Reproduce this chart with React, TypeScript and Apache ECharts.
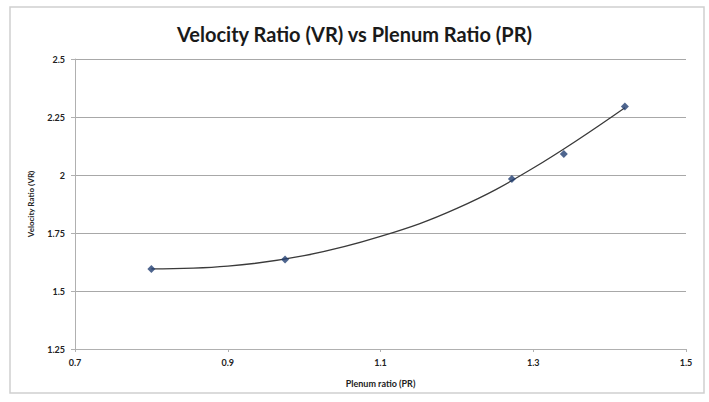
import React, { useEffect, useRef } from "react";
import * as echarts from "echarts";

const pr = [0.8, 0.975, 1.272, 1.34, 1.42];
const vr = [1.595, 1.636, 1.983, 2.09, 2.295];

// trendline
const trendX = [0.8, 0.9, 1.0, 1.1, 1.2, 1.3, 1.42];
const trendY = [1.595, 1.607, 1.652, 1.735, 1.856, 2.03, 2.29];

const xTicks = [0.7, 0.9, 1.1, 1.3, 1.5];
const yTicks = [1.25, 1.5, 1.75, 2, 2.25, 2.5];

export default function App() {
  const ref = useRef<HTMLDivElement>(null);
  useEffect(() => {
    const chart = echarts.init(ref.current!, null, { renderer: "svg" });
    const font = "Lato";
    chart.setOption({
      animation: false,
      backgroundColor: "#ffffff",
      title: {
        text: "Velocity Ratio (VR) vs Plenum Ratio (PR)",
        left: "center",
        top: 19,
        textStyle: { fontFamily: font, fontSize: 20, fontWeight: "bold", color: "#1a1a1a" },
      },
      graphic: [
        {
          type: "rect",
          shape: { x: 10, y: 7, width: 694, height: 386 },
          style: { fill: "none", stroke: "#d0d0d0", lineWidth: 1.5 },
          silent: true,
        },
      ],
      grid: { left: 75, right: 23, top: 59, bottom: 53 },
      xAxis: {
        type: "value",
        min: xTicks[0],
        max: xTicks[xTicks.length - 1],
        interval: 0.2,
        name: "Plenum ratio (PR)",
        nameLocation: "middle",
        nameGap: 30,
        nameTextStyle: { fontFamily: font, fontSize: 9, fontWeight: "bold", color: "#222" },
        axisLine: { show: true, lineStyle: { color: "#b0b0b0", width: 1 } },
        axisTick: { show: true, length: 3, lineStyle: { color: "#b0b0b0" } },
        axisLabel: {
          fontFamily: font,
          fontSize: 9,
          fontWeight: "bold",
          color: "#222",
          margin: 9,
          formatter: (v: number) => String(Math.round(v * 10) / 10),
        },
        splitLine: { show: false },
      },
      yAxis: {
        type: "value",
        min: yTicks[0],
        max: yTicks[yTicks.length - 1],
        interval: 0.25,
        name: "Velocity Ratio (VR)",
        nameLocation: "middle",
        nameGap: 40,
        nameTextStyle: { fontFamily: font, fontSize: 8, fontWeight: "bold", color: "#222" },
        axisLine: { show: true, lineStyle: { color: "#b0b0b0", width: 1 } },
        axisTick: { show: true, length: 4, inside: false, lineStyle: { color: "#b0b0b0" } },
        axisLabel: {
          fontFamily: font,
          fontSize: 9,
          fontWeight: "bold",
          color: "#222",
          margin: 10,
          formatter: (v: number) => String(Math.round(v * 100) / 100),
        },
        splitLine: { show: true, lineStyle: { color: "#a8a8a8", width: 1 } },
      },
      series: [
        {
          type: "line",
          data: trendX.map((x, i) => [x, trendY[i]]),
          smooth: 0.4,
          showSymbol: false,
          lineStyle: { color: "#3a3a3a", width: 1.3 },
          z: 2,
        },
        {
          type: "scatter",
          data: pr.map((x, i) => [x, vr[i]]),
          symbol: "diamond",
          symbolSize: 8,
          itemStyle: { color: "#223f72" },
          z: 3,
        },
      ],
    });
    return () => chart.dispose();
  }, []);
  return (
    <div
      ref={ref}
      style={{ position: "fixed", left: 0, top: 0, width: 709, height: 402 }}
    />
  );
}
